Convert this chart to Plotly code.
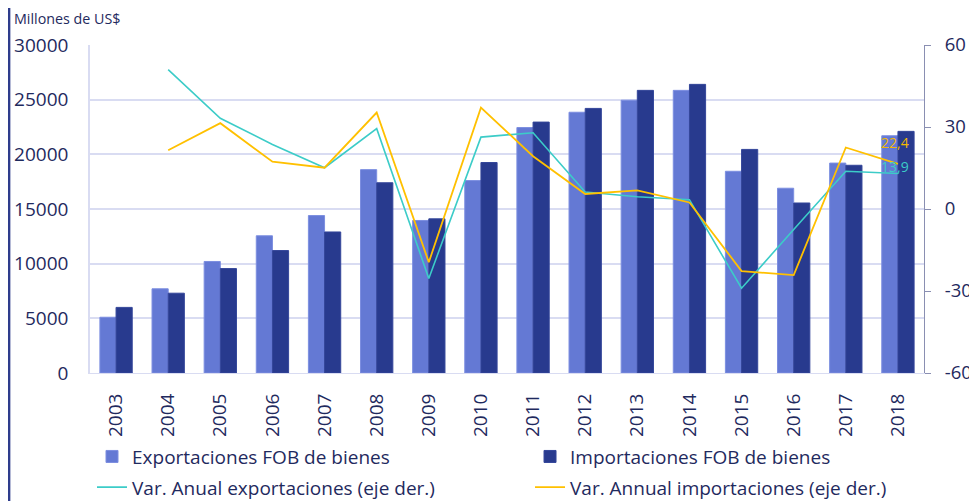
import plotly.graph_objects as go

years = [str(y) for y in range(2003, 2019)]
exportaciones = [5100, 7700, 10200, 12550, 14400, 18600, 13950, 17600, 22450, 23850, 24950, 25850, 18450, 16900, 19200, 21700]
importaciones = [6000, 7300, 9550, 11200, 12900, 17400, 14100, 19250, 22950, 24200, 25850, 26400, 20450, 15550, 19000, 22100]
var_exp = [None, 51.0, 33.2, 23.6, 15.1, 29.4, -25.4, 26.3, 27.9, 6.2, 4.5, 3.4, -29.0, -7.5, 13.8, 13.0]
var_imp = [None, 21.5, 31.4, 17.3, 15.1, 35.3, -19.5, 37.1, 19.3, 5.5, 6.8, 2.4, -22.7, -24.2, 22.5, 16.5]
label_exp = 13.9
label_imp = 22.4
y2_ticks = [-60, -30, 0, 30, 60]
y2_ticktext = ["-60", "-30", "0", "30", "60"]

navy = "#1F2A5E"
grid = "#D9DCF2"
c_exp = "#6479D4"
c_imp = "#283A8E"
c_vexp = "#3CCCC8"
c_vimp = "#FFC000"
legfont = dict(family="Open Sans", size=19, color=navy)

fig = go.Figure()
fig.add_trace(go.Bar(x=years, y=exportaciones, name="Exportaciones FOB de bienes",
                     legend="legend", legendgroup="a",
                     marker=dict(color=c_exp, line=dict(color="#7C8EE0", width=1))))
fig.add_trace(go.Bar(x=years, y=importaciones, name="Importaciones FOB de bienes",
                     legend="legend2", legendgroup="c",
                     marker=dict(color=c_imp, line=dict(color="#34469A", width=1))))
fig.add_trace(go.Scatter(x=years, y=var_exp, name="Var. Anual exportaciones (eje der.)",
                         legend="legend", legendgroup="b",
                         mode="lines", line=dict(color=c_vexp, width=1.6), yaxis="y2"))
fig.add_trace(go.Scatter(x=years, y=var_imp, name="Var. Annual importaciones (eje der.)",
                         legend="legend2", legendgroup="d",
                         mode="lines", line=dict(color=c_vimp, width=1.8), yaxis="y2"))

n = len(years)
fig.update_layout(
    width=969, height=493,
    margin=dict(l=82, r=53, t=37, b=128, autoexpand=False),
    paper_bgcolor="white", plot_bgcolor="white",
    barmode="group", bargap=0.38, bargroupgap=0,
    font=dict(family="Open Sans", color=navy, size=19),
    showlegend=True,
    legend=dict(orientation="v", x=0.0024, y=-0.197, xanchor="left", yanchor="top",
                font=legfont, tracegroupgap=3, traceorder="grouped", itemwidth=30,
                bgcolor="rgba(0,0,0,0)"),
    legend2=dict(orientation="v", x=0.5276, y=-0.197, xanchor="left", yanchor="top",
                 font=legfont, tracegroupgap=3, traceorder="grouped", itemwidth=30,
                 bgcolor="rgba(0,0,0,0)"),
    xaxis=dict(type="category", range=[-0.5, n - 0.5], tickangle=-90, showline=True, linecolor=grid,
               showgrid=False, ticks="", tickfont=dict(size=19, color=navy),
               ticklabelstandoff=12, automargin=False),
    yaxis=dict(range=[0, 30000], dtick=5000, tickformat="d", showgrid=True, gridcolor=grid, gridwidth=1.5,
               showline=True, linecolor=grid, linewidth=1.5, ticks="", zeroline=False,
               tickfont=dict(size=19, color=navy), ticklabelstandoff=16, automargin=False),
    yaxis2=dict(range=[-60, 60], tickvals=y2_ticks, ticktext=y2_ticktext, overlaying="y", side="right",
                showgrid=False, zeroline=False, showline=True, linecolor="#8A8FB2", linewidth=1.2,
                ticks="outside", ticklen=6, tickcolor="#8A8FB2",
                tickfont=dict(size=18.5, color=navy), ticklabelstandoff=10, automargin=False),
    annotations=[
        dict(text="Millones de US$", xref="paper", yref="paper", x=-0.0935, y=1.0823,
             xanchor="left", yanchor="middle", showarrow=False,
             font=dict(family="Open Sans", size=14.3, color=navy)),
        dict(text=f"{label_imp:.1f}".replace(".", ","), x=n - 1, y=label_imp, xref="x", yref="y2",
             showarrow=False, xshift=-3, yshift=5, font=dict(family="Open Sans", size=14, color="#F2B800")),
        dict(text=f"{label_exp:.1f}".replace(".", ","), x=n - 1, y=label_exp, xref="x", yref="y2",
             showarrow=False, xshift=-3, yshift=5, font=dict(family="Open Sans", size=14, color=c_vexp)),
    ],
    shapes=[dict(type="line", xref="paper", yref="paper", x0=-0.097, x1=-0.097, y0=-0.4, y1=1.2,
                 line=dict(color="#2E3C8C", width=2.5))],
)

fig.write_html("out.html")
